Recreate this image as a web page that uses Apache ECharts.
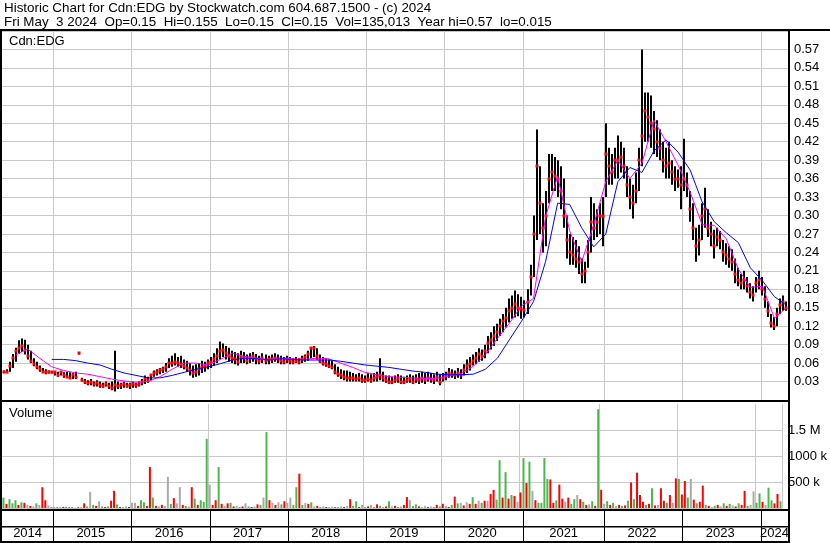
<!DOCTYPE html>
<html><head><meta charset="utf-8">
<script src="https://cdn.jsdelivr.net/npm/echarts@6/dist/echarts.min.js"></script>
<style>html,body{margin:0;padding:0;background:#fff}#c{width:830px;height:543px}</style>
</head><body><div id="c"></div>
<script>
// ---------- DATA ----------
const titleLine1 = 'Historic Chart for Cdn:EDG by Stockwatch.com 604.687.1500 - (c) 2024';
const titleLine2 = 'Fri May  3 2024  Op=0.15  Hi=0.155  Lo=0.15  Cl=0.15  Vol=135,013  Year hi=0.57  lo=0.015';
const symbolLabel = 'Cdn:EDG';
const volumeLabel = 'Volume';

// bi-weekly periods, first period ending 2014-05-16, last ending 2024-05-03
const firstPeriodEnd = [2014, 4, 16];
const periodDays = 14;
const periodCount = 261;

const high = [
.048,.050,.062,.075,.085,.097,.100,.098,.090,.080,
.068,.062,.056,.052,.050,.048,.047,.047,.046,.046,
.045,.046,.045,.044,.046,.076,.036,.034,.032,.034,
.030,.032,.030,.028,.030,.028,.030,.080,.030,.028,
.030,.028,.028,.030,.028,.030,.034,.040,.038,.042,
.048,.050,.052,.054,.060,.068,.072,.076,.070,.072,
.066,.064,.060,.056,.058,.060,.064,.062,.066,.070,
.076,.084,.095,.092,.088,.085,.080,.078,.076,.080,
.078,.074,.076,.078,.075,.072,.076,.074,.072,.074,
.076,.074,.072,.070,.072,.070,.068,.070,.068,.072,
.074,.080,.086,.088,.084,.074,.070,.068,.066,.064,
.058,.054,.050,.048,.048,.046,.044,.042,.044,.042,
.040,.044,.042,.044,.046,.068,.046,.040,.040,.038,
.040,.042,.040,.038,.040,.042,.040,.042,.044,.046,
.044,.046,.044,.042,.046,.042,.044,.046,.052,.050,
.048,.052,.050,.058,.066,.070,.074,.078,.084,.082,
.090,.104,.110,.120,.124,.132,.140,.150,.165,.170,
.178,.172,.168,.162,.180,.220,.300,.440,.380,.320,
.340,.400,.400,.395,.390,.380,.360,.300,.270,.265,
.260,.250,.230,.225,.260,.330,.320,.310,.320,.330,
.450,.410,.400,.410,.430,.420,.410,.380,.360,.350,
.370,.410,.570,.500,.500,.495,.470,.455,.440,.420,
.410,.420,.390,.380,.375,.380,.425,.370,.340,.320,
.280,.285,.320,.345,.310,.290,.277,.280,.275,.260,
.255,.250,.245,.230,.215,.205,.210,.200,.190,.185,
.200,.210,.200,.185,.160,.140,.135,.150,.165,.170,
.160];
const low = [
.044,.044,.046,.052,.062,.075,.078,.074,.066,.060,
.055,.050,.046,.044,.042,.043,.043,.040,.038,.040,
.036,.036,.034,.034,.034,.074,.030,.026,.024,.024,
.022,.022,.020,.020,.022,.018,.016,.014,.018,.018,
.020,.020,.018,.020,.020,.022,.024,.026,.028,.032,
.038,.040,.042,.044,.046,.052,.054,.056,.054,.052,
.050,.046,.040,.036,.038,.040,.044,.046,.050,.052,
.056,.060,.066,.070,.066,.062,.060,.058,.056,.060,
.060,.058,.060,.062,.058,.058,.060,.058,.058,.060,
.062,.060,.058,.058,.060,.058,.058,.060,.058,.060,
.062,.064,.068,.070,.066,.060,.056,.054,.052,.050,
.042,.038,.034,.032,.030,.030,.030,.030,.030,.028,
.028,.030,.028,.030,.030,.032,.030,.028,.026,.026,
.028,.028,.026,.026,.028,.028,.026,.028,.026,.028,
.026,.030,.028,.026,.030,.024,.030,.032,.036,.036,
.034,.036,.034,.040,.044,.048,.056,.058,.062,.064,
.068,.076,.082,.088,.096,.104,.110,.118,.126,.132,
.134,.136,.132,.134,.140,.170,.200,.260,.270,.240,
.250,.320,.340,.340,.330,.310,.280,.230,.220,.220,
.215,.205,.190,.190,.215,.240,.260,.265,.270,.250,
.330,.350,.350,.360,.360,.370,.360,.330,.310,.295,
.320,.340,.380,.420,.420,.410,.400,.395,.390,.370,
.360,.360,.350,.340,.345,.310,.340,.330,.290,.260,
.225,.235,.260,.280,.265,.250,.230,.250,.245,.225,
.220,.215,.210,.190,.185,.180,.180,.175,.165,.160,
.175,.180,.170,.150,.135,.118,.114,.120,.140,.145,
.145];
const close = [
.046,.046,.055,.068,.080,.085,.088,.082,.072,.064,
.058,.054,.050,.046,.046,.045,.045,.045,.040,.045,
.040,.038,.036,.040,.038,.076,.032,.030,.028,.030,
.026,.028,.024,.022,.026,.022,.020,.024,.022,.024,
.026,.022,.024,.026,.024,.026,.030,.034,.032,.040,
.044,.046,.048,.050,.054,.060,.060,.062,.060,.058,
.056,.052,.048,.044,.046,.050,.054,.056,.060,.062,
.066,.072,.080,.082,.076,.072,.068,.066,.062,.070,
.068,.064,.068,.072,.066,.064,.068,.064,.066,.066,
.068,.066,.064,.062,.066,.064,.062,.064,.062,.066,
.070,.074,.084,.084,.072,.064,.060,.058,.056,.054,
.046,.042,.040,.038,.036,.036,.036,.034,.036,.032,
.032,.034,.032,.036,.038,.040,.036,.032,.030,.030,
.032,.034,.030,.030,.032,.034,.030,.034,.032,.036,
.032,.036,.034,.032,.038,.030,.036,.040,.044,.042,
.040,.044,.040,.048,.056,.058,.064,.068,.074,.072,
.080,.092,.098,.104,.110,.120,.128,.134,.145,.150,
.156,.150,.148,.146,.160,.200,.270,.380,.320,.280,
.300,.360,.370,.365,.360,.340,.300,.260,.240,.235,
.230,.225,.205,.210,.240,.290,.280,.290,.300,.300,
.400,.380,.370,.390,.390,.395,.380,.350,.330,.320,
.340,.390,.430,.470,.460,.450,.440,.420,.410,.390,
.380,.385,.370,.360,.360,.350,.360,.350,.310,.280,
.250,.260,.300,.310,.280,.270,.250,.265,.260,.240,
.235,.230,.225,.205,.195,.190,.195,.185,.175,.170,
.190,.195,.180,.165,.145,.125,.120,.140,.155,.160,
.150];

// moving averages, read every 4th period
const maEvery = 4;
const maShort = [null,.073,.083,.068,.054,.048,.044,.042,.038,.034,
.031,.029,.030,.038,.050,.060,.060,.057,.066,.076,
.071,.068,.066,.068,.067,.066,.068,.067,.060,.053,
.045,.041,.038,.037,.036,.035,.035,.039,.043,.055,
.074,.100,.125,.153,.165,.298,.364,.275,.225,.285,
.355,.390,.360,.385,.455,.420,.382,.338,.285,.284,
.262,.213,.183,.185,.133,.150];
const maLong = [null,null,null,null,.066,.066,.064,.060,.057,.050,
.044,.040,.036,.036,.040,.045,.050,.054,.059,.065,
.068,.067,.065,.067,.066,.065,.065,.065,.063,.060,
.057,.055,.053,.050,.047,.045,.042,.041,.041,.042,
.050,.068,.098,.128,.160,.225,.320,.318,.280,.249,
.270,.355,.378,.370,.405,.423,.403,.374,.322,.290,
.272,.256,.215,.194,.168,.154];

// volume in thousands, and bar colour (g = up, r = down, n = unchanged)
const volumeK = [
200,80,170,90,150,60,110,100,60,40,
30,90,60,400,150,50,20,10,20,15,
20,25,15,20,10,15,20,90,30,310,
60,40,130,30,20,30,140,330,70,20,
15,30,20,100,100,40,150,110,40,790,
200,40,30,60,40,600,80,190,90,400,
60,40,30,400,180,60,150,120,1330,450,
60,150,790,80,40,90,100,30,40,20,
30,90,30,20,30,70,60,200,1460,150,
100,60,110,70,130,100,200,60,400,660,
60,100,80,110,30,40,20,30,20,15,
25,15,20,30,20,40,170,40,130,20,
60,20,30,60,20,70,40,20,30,130,
30,40,20,30,60,210,150,40,70,30,
20,40,20,30,20,60,30,80,40,20,
60,220,90,100,50,110,80,210,80,140,
100,140,140,270,350,160,920,200,690,180,
250,230,120,300,960,480,890,330,150,100,
100,960,560,550,100,150,450,180,120,200,
80,170,250,170,120,60,70,130,40,1900,
350,80,130,60,100,40,60,40,50,140,
490,170,680,250,120,60,80,380,50,60,
380,140,100,250,100,570,560,260,520,200,
560,160,90,120,430,60,40,20,40,60,
30,90,40,80,50,30,90,60,330,40,
60,320,100,280,120,60,390,150,90,270,
130];
const volumeDir = ('grgggrgrnr'+'ngnrrngrgg'+'rgrgnrnrgn'+'grngrgrrgr'+'gnrnnrggrr'+
  'grnrnngrnn'+'rgnrgrgggn'+'rrgrnrgrng'+'rngrnrgngr'+'nrngrnnggr'+
  'gnrgnrgnrg'+'nrgnrnrggr'+'ngrngrgnrg'+'nrgnrrnggr'+'nnrngrgrnr'+
  'grgnrnrgrn'+'grnrrggrgr'+'grnrgrgnrg'+'gggrrgrrnr'+'ggnrgrngrg'+
  'rngrgnrgrg'+'rgrrrgrgrn'+'rrgrnrgrrg'+'nrgrrgrngr'+'ngrgnrgrrg'+
  'nnggrnggrr'+'g').split('');

const priceTickLabels = ['0.03','0.06','0.09','0.12','0.15','0.18','0.21','0.24','0.27','0.30',
  '0.33','0.36','0.39','0.42','0.45','0.48','0.51','0.54','0.57'];
const volTickValues = [500, 1000, 1500];
const volTickLabels = ['500 k', '1000 k', '1.5 M'];

// ---------- BUILD ----------
const categories = [];
const t0 = Date.UTC(firstPeriodEnd[0], firstPeriodEnd[1], firstPeriodEnd[2]);
for (let i = 0; i < periodCount; i++) {
  categories.push(new Date(t0 + i * periodDays * 86400000).toISOString().slice(0, 10));
}
const yearStart = new Set();
const byYear = {};
categories.forEach((c, i) => {
  const y = c.slice(0, 4);
  (byYear[y] = byYear[y] || []).push(i);
  if (i > 0 && categories[i - 1].slice(0, 4) !== y) yearStart.add(i);
});
const yearLabelIdx = new Set();
Object.keys(byYear).forEach(y => {
  const a = byYear[y];
  yearLabelIdx.add(a[Math.floor((a.length - 1) / 2)]);
});

const colorMap = { g: '#4cb84c', r: '#ff0000', n: '#aaaaaa' };
const ohlc = categories.map((c, i) => [i, high[i], low[i], close[i]]);
const maPairs = arr => arr.map((v, k) => [k * maEvery, v]).filter(p => p[1] != null);
const volData = volumeK.map((v, i) => ({ value: v, itemStyle: { color: colorMap[volumeDir[i]] } }));

const FONT = '"Liberation Sans", Arial, Helvetica, sans-serif';
const GRID_COLOR = '#c8c8c8';
const L = 2, R = 42;

const chart = echarts.init(document.getElementById('c'), null, { renderer: 'canvas' });

const catAxis = (gi, splitColor, withLabels) => ({
  gridIndex: gi, type: 'category', data: categories, boundaryGap: true,
  axisLine: { show: false }, axisTick: { show: false },
  axisLabel: withLabels ? {
    show: true, inside: true, margin: 8, verticalAlign: 'middle',
    interval: (idx) => yearLabelIdx.has(idx),
    formatter: v => v.slice(0, 4), color: '#000', fontSize: 13, fontFamily: FONT
  } : { show: false },
  splitLine: { show: true, interval: (idx) => yearStart.has(idx), lineStyle: { color: splitColor, width: 1 } }
});

const frame = [
  [0, 29, 830, 2], [0, 29, 2, 514], [788, 29, 2, 514],
  [0, 400, 790, 2], [0, 509, 790, 2], [0, 526, 790, 1.5], [0, 541, 790, 2]
].map(r => ({ type: 'rect', z: 100, silent: true, shape: { x: r[0], y: r[1], width: r[2], height: r[3] }, style: { fill: '#000' } }));

const texts = [
  [titleLine1, 4, 8, 13.4], [titleLine2, 4, 22, 13.4], [symbolLabel, 9, 41, 13], [volumeLabel, 9, 413, 13]
].map(t => ({ type: 'text', z: 101, silent: true, x: t[1], y: t[2],
  style: { text: t[0], fill: '#000', font: t[3] + 'px ' + FONT, verticalAlign: 'middle', align: 'left' } }));

chart.setOption({
  animation: false,
  backgroundColor: '#fff',
  textStyle: { fontFamily: FONT },
  grid: [
    { left: L, right: R, top: 31, height: 369 },
    { left: L, right: R, top: 404, height: 104 },
    { left: L, right: R, top: 511, height: 30 }
  ],
  xAxis: [catAxis(0, GRID_COLOR, false), catAxis(1, GRID_COLOR, false), catAxis(2, '#000', true)],
  yAxis: [
    { gridIndex: 0, type: 'value', position: 'right', min: 0, max: 0.6, interval: 0.03,
      axisLine: { show: false }, axisTick: { show: false },
      splitLine: { show: true, lineStyle: { color: GRID_COLOR, width: 1 } },
      axisLabel: { margin: 6, color: '#000', fontSize: 13, fontFamily: FONT,
        formatter: v => { const s = v.toFixed(2); return priceTickLabels.includes(s) ? s : ''; } } },
    { gridIndex: 1, type: 'value', position: 'right', min: 0, max: 2000, interval: 500,
      axisLine: { show: false }, axisTick: { show: false },
      splitLine: { show: true, lineStyle: { color: [GRID_COLOR, GRID_COLOR, GRID_COLOR, GRID_COLOR, 'rgba(0,0,0,0)'], width: 1 } },
      axisLabel: { margin: 6, color: '#000', fontSize: 13, fontFamily: FONT,
        formatter: v => { const k = volTickValues.indexOf(Math.round(v)); return k >= 0 ? volTickLabels[k] : ''; } } },
    { gridIndex: 2, type: 'value', min: 0, max: 1, show: false }
  ],
  graphic: { elements: frame.concat(texts) },
  series: [
    { type: 'custom', xAxisIndex: 0, yAxisIndex: 0, data: ohlc, clip: true,
      encode: { x: 0, y: [1, 2, 3] },
      renderItem: (params, api) => {
        const i = api.value(0);
        const h = api.coord([i, api.value(1)]);
        const l = api.coord([i, api.value(2)]);
        const c = api.coord([i, api.value(3)]);
        const x = Math.round(h[0]);
        return { type: 'group', children: [
          { type: 'rect', shape: { x: x - 1, y: h[1], width: 2, height: Math.max(1, l[1] - h[1]) }, style: { fill: '#000' } },
          { type: 'rect', shape: { x: x - 1.5, y: Math.round(c[1]) - 1.5, width: 3, height: 3 }, style: { fill: '#ff0000' } }
        ] };
      } },
    { type: 'line', xAxisIndex: 0, yAxisIndex: 0, data: maPairs(maShort), showSymbol: false, symbol: 'none',
      lineStyle: { color: '#ff00ff', width: 1 }, z: 3 },
    { type: 'line', xAxisIndex: 0, yAxisIndex: 0, data: maPairs(maLong), showSymbol: false, symbol: 'none',
      lineStyle: { color: '#0000ff', width: 1 }, z: 4 },
    { type: 'bar', xAxisIndex: 1, yAxisIndex: 1, data: volData, barWidth: 2, barGap: '0%' }
  ]
});
</script></body></html>
